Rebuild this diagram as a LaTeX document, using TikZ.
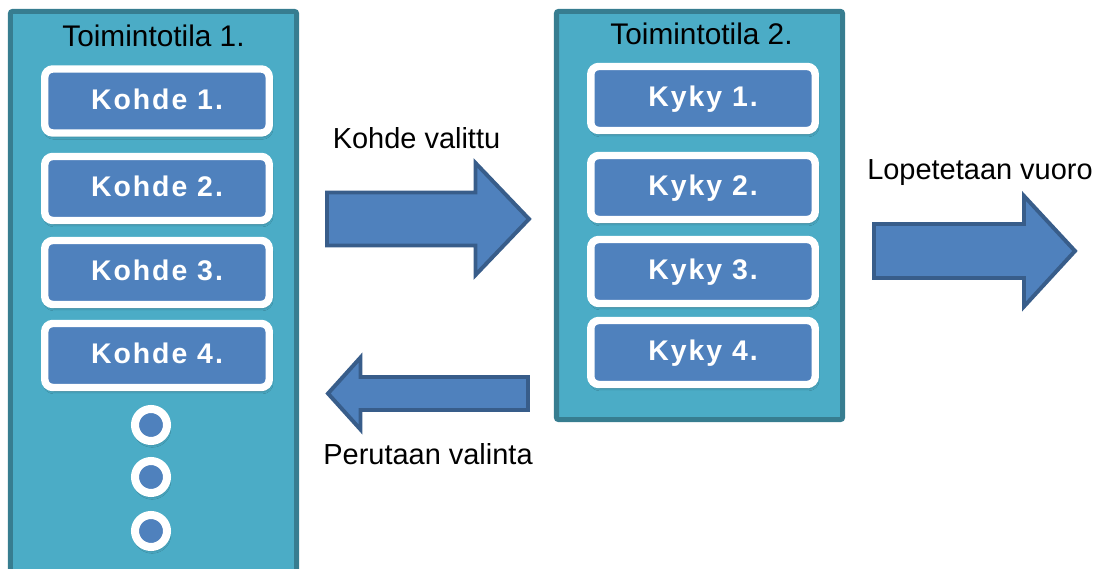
\documentclass[tikz,border=0pt]{standalone}
\usepackage{fontspec}
\setmainfont{Liberation Sans}
\newfontfamily\itemfont[LetterSpace=7]{Liberation Sans}
\usepackage{tikz}
\usetikzlibrary{shadows.blur}
\definecolor{panelfill}{RGB}{75,172,198}
\definecolor{panelline}{RGB}{55,125,144}
\definecolor{itemblue}{RGB}{79,129,189}
\definecolor{arrowline}{RGB}{56,93,138}
\tikzstyle{panel}=[rectangle, draw=panelline, fill=panelfill, line width=3.6pt, rounded corners=1.5pt, minimum width=7.15cm]
\tikzstyle{caption}=[anchor=base, inner sep=0pt, font=\fontsize{20.6}{24}\selectfont]

\begin{document}
\begin{tikzpicture}[x=0.025cm, y=-0.025cm,
	item/.style={rectangle, draw=white, fill=itemblue, line width=5.3pt, rounded corners=5.7pt,
		minimum width=5.61cm, minimum height=1.6cm, inner sep=0pt, text=white,
		text height=14.2pt, text depth=2.8pt, font=\itemfont\bfseries\fontsize{20.2}{24}\selectfont,
		blur shadow={shadow xshift=0.8pt, shadow yshift=-2.5pt, shadow blur radius=2pt, shadow opacity=35}},
	dot/.style={circle, draw=white, fill=itemblue, line width=5.7pt, minimum size=0.8cm, inner sep=0pt,
		blur shadow={shadow xshift=0.8pt, shadow yshift=-2.5pt, shadow blur radius=2pt, shadow opacity=35}},
	blockarrow/.style={draw=arrowline, fill=itemblue, line width=2.8pt}]
\useasboundingbox (0,0) rectangle (1104,569);

% the two state panels
\node (tila1) at (153.5,305.75)[panel, minimum height=14.71cm] {};
\node (tila2) at (699.5,215.5)[panel, minimum height=10.2cm] {};
\node (otsikko1) at (153.5,47)[caption, font=\fontsize{21.2}{24}\selectfont] {Toimintotila 1.};
\node (otsikko2) at (701.5,45)[caption, font=\fontsize{21.2}{24}\selectfont] {Toimintotila 2.};

% targets
\node (k1) at (157,101)[item] {Kohde 1.};
\node (k2) at (157,188.5)[item] {Kohde 2.};
\node (k3) at (157,272.5)[item] {Kohde 3.};
\node (k4) at (157,355.5)[item] {Kohde 4.};
\node (d1) at (151,425)[dot] {};
\node (d2) at (151,477)[dot] {};
\node (d3) at (151,531)[dot] {};

% abilities
\node (a1) at (703,98.5)[item] {Kyky 1.};
\node (a2) at (703,187.5)[item] {Kyky 2.};
\node (a3) at (703,271.5)[item] {Kyky 3.};
\node (a4) at (703,352.5)[item] {Kyky 4.};

% transitions
\draw[blockarrow] (327,192.5) -- (475.5,192.5) -- (475.5,163) -- (529,219) -- (475.5,275) -- (475.5,245.5) -- (327,245.5) -- cycle;
\node (valittu) at (416.5,149)[caption] {Kohde valittu};

\draw[blockarrow] (328,393.5) -- (360.5,357.5) -- (360.5,377) -- (528,377) -- (528,410) -- (360.5,410) -- (360.5,429.5) -- cycle;
\node (peru) at (428,465)[caption] {Perutaan valinta};

\draw[blockarrow] (874,224) -- (1024,224) -- (1024,196) -- (1075,251) -- (1024,306.5) -- (1024,278) -- (874,278) -- cycle;
\node (lopetus) at (980,180)[caption] {Lopetetaan vuoro};
\end{tikzpicture}
\end{document}
